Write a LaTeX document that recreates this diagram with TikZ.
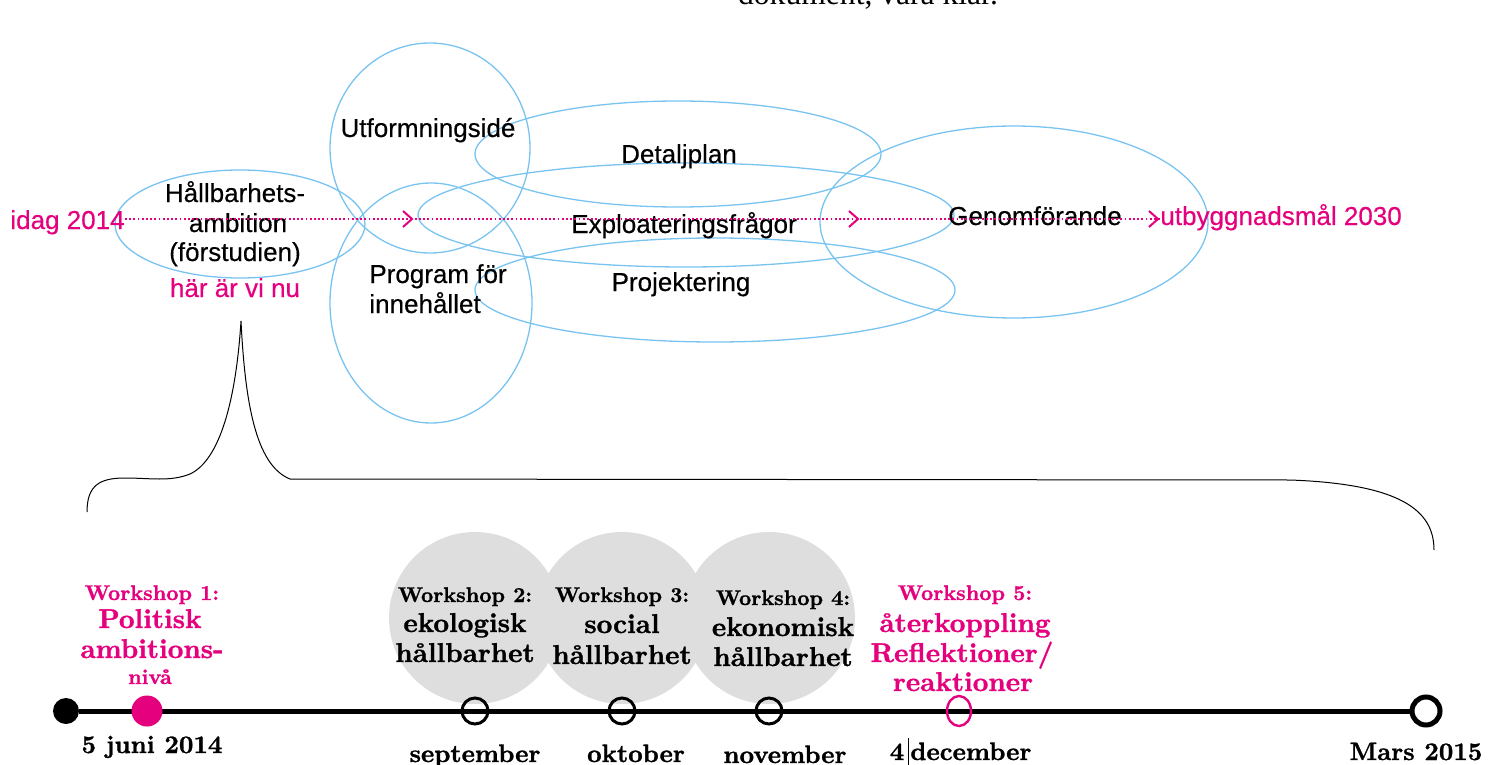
\documentclass[tikz,border=0pt]{standalone}
\usepackage{fontspec}
\usetikzlibrary{backgrounds,shapes.geometric}
\newfontfamily\topsans[FakeBold=0.4]{Liberation Sans}
\newfontfamily\topserif{Liberation Serif}
\newfontfamily\wsbold[FakeBold=1.2]{lmroman10-bold.otf}
\definecolor{pinkc}{RGB}{229,0,125}
\definecolor{skyc}{RGB}{120,195,240}
\definecolor{grayc}{RGB}{222,222,222}
\begin{document}
\begin{tikzpicture}[x=0.5pt,y=-0.5pt,
  bubble/.style={draw=skyc, line width=0.65pt},
  tt/.style={font=\topsans\fontsize{13}{15}\selectfont, inner sep=0pt, anchor=base},
  ttp/.style={tt, text=pinkc},
  chev/.style={draw=pinkc, line width=1pt},
  dotline/.style={draw=pinkc, line width=0.85pt, dash pattern=on 0.85pt off 1.25pt},
  wsa/.style={font=\wsbold\fontsize{10.6}{12}\selectfont, inner sep=0pt, anchor=base},
  wsb/.style={font=\wsbold\fontsize{13.6}{15}\selectfont, inner sep=0pt, anchor=base},
  dl/.style={font=\wsbold\fontsize{12.6}{15}\selectfont, inner sep=0pt, anchor=base},
  hollow/.style={circle, draw=black, line width=1.5pt, minimum size=13pt, inner sep=0pt},
  brace/.style={draw=black, line width=0.5pt}
]
\useasboundingbox (0,0) rectangle (1489,765);

% cut-off text at top
\node[font=\topserif\fontsize{15.8}{18}\selectfont, inner sep=0pt, anchor=base] (doc) at (868,5) {dokument, våra klar.};

% bubbles
\draw[bubble] (240,224) ellipse [x radius=125, y radius=54];
\draw[bubble] (430,148) ellipse [x radius=100, y radius=105];
\draw[bubble] (431,303) ellipse [x radius=101, y radius=120];
\draw[bubble] (678,154) ellipse [x radius=203, y radius=53];
\draw[bubble] (686,215) ellipse [x radius=268, y radius=52];
\draw[bubble] (715,290) ellipse [x radius=240, y radius=52];
\draw[bubble] (1014,222) ellipse [x radius=194, y radius=96];

% top texts
\node[ttp, anchor=base west] (idag) at (10,229) {idag 2014};
\node[tt] (hall1) at (235,202) {Hållbarhets-};
\node[tt] (hall2) at (238,232) {ambition};
\node[tt] (hall3) at (235,261) {(förstudien)};
\node[ttp] (nu) at (235,297) {här är vi nu};
\node[tt] (utf) at (428,137) {Utformningsidé};
\node[tt] (det) at (679,163) {Detaljplan};
\node[tt] (expl) at (684,233) {Exploateringsfrågor};
\node[tt] (proj) at (681,291) {Projektering};
\node[tt, anchor=base west] (prog1) at (369,283) {Program för};
\node[tt, anchor=base west] (prog2) at (369,313) {innehållet};
\node[tt] (gen) at (1035,225) {Genomförande};
\node[ttp, anchor=base west] (utb) at (1160,225) {utbyggnadsmål 2030};

\coordinate (dly) at (0,219);
\draw[dotline] (idag.east |- dly) -- (utb.west |- dly);
\draw[chev] (403,211) -- (412,219) -- (403,227);
\draw[chev] (849,211) -- (858,219) -- (849,227);
\draw[chev] (1149,211) -- (1158,219) -- (1149,227);

% brace
\draw[brace] (87,512) .. controls (87,485) and (100,478) .. (125,478)
  .. controls (150,478) and (170,482) .. (190,474)
  .. controls (220,460) and (236,400) .. (241,321)
  .. controls (245,400) and (255,465) .. (290,479)
  -- (1290,480) .. controls (1400,484) and (1434,510) .. (1434,550);

% gray circles
\fill[grayc] (475,618) circle [radius=86];
\fill[grayc] (622,618) circle [radius=86];
\fill[grayc] (769,618) circle [radius=86];

% timeline nodes
\node[circle, fill=black, minimum size=13pt, inner sep=0pt] (t0) at (66,711) {};
\node[circle, fill=pinkc, minimum size=15.5pt, inner sep=0pt] (t1) at (147,711) {};
\node[hollow] (t2) at (475,711) {};
\node[hollow] (t3) at (622,711) {};
\node[hollow] (t4) at (769,711) {};
\node[ellipse, draw=pinkc, line width=1.2pt, minimum width=12pt, minimum height=15pt, inner sep=0pt] (t5) at (959,711) {};
\node[circle, draw=black, fill=white, line width=2.5pt, minimum size=14pt, inner sep=0pt] (tend) at (1426,711) {};
\begin{scope}[on background layer]
\draw[line width=2.5pt] (t0) -- (tend);
\end{scope}

% workshop labels
\begin{scope}[text=pinkc]
\node[wsa] (w1a) at (152,600) {Workshop 1:};
\node[wsb] (w1b) at (150,628) {Politisk};
\node[wsb] (w1c) at (152,658) {ambitions-};
\node[wsa] (w1d) at (150,684) {nivå};
\end{scope}
\node[wsa] (w2a) at (465,602) {Workshop 2:};
\node[wsb] (w2b) at (465,632) {ekologisk};
\node[wsb] (w2c) at (465,662) {hållbarhet};
\node[wsa] (w3a) at (622,602) {Workshop 3:};
\node[wsb] (w3b) at (622,633) {social};
\node[wsb] (w3c) at (622,664) {hållbarhet};
\node[wsa] (w4a) at (783,605) {Workshop 4:};
\node[wsb] (w4b) at (783,636) {ekonomisk};
\node[wsb] (w4c) at (783,666) {hållbarhet};
\begin{scope}[text=pinkc]
\node[wsa] (w5a) at (965,600) {Workshop 5:};
\node[wsb] (w5b) at (965,632) {återkoppling};
\node[wsb] (w5c) at (962,662) {Reflektioner/};
\node[wsb] (w5d) at (963,691) {reaktioner};
\end{scope}

% dates
\node[dl] (d1) at (152,753) {5 juni 2014};
\node[dl] (d2) at (475,762) {september};
\node[dl] (d3) at (636,762) {oktober};
\node[dl] (d4) at (785,763) {november};
\node[dl] (d5a) at (897,760) {4};
\node[dl, anchor=base west] (d5b) at (910,760) {december};
\draw[line width=0.4pt] (d5a.east |- 0,738) ++(4,0) -- ++(0,27);
\node[dl] (d6) at (1416,760) {Mars 2015};
\end{tikzpicture}
\end{document}
